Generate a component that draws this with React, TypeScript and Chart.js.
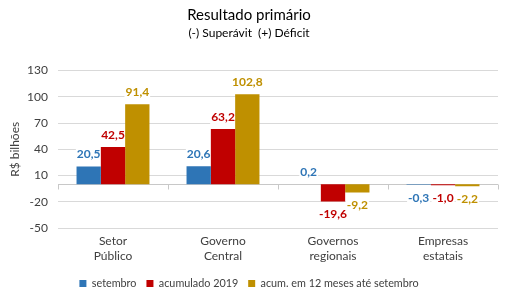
import React, { useEffect, useRef } from "react";
import { Chart, registerables } from "chart.js";

Chart.register(...registerables);

const categories: string[][] = [
  ["Setor", "Público"],
  ["Governo", "Central"],
  ["Governos", "regionais"],
  ["Empresas", "estatais"],
];
const setembro = [20.5, 20.6, 0.2, -0.3];
const acumulado2019 = [42.5, 63.2, -19.6, -1.0];
const acum12Meses = [91.4, 102.8, -9.2, -2.2];
const seriesNames = ["setembro", "acumulado 2019", "acum. em 12 meses até setembro"];
const seriesColors = ["#2E75B6", "#C00000", "#BF9000"];
const yMin = -50;
const yMax = 130;
const yStep = 30;

const FONT = "Lato, 'Open Sans', sans-serif";

const fmt = (v: number) => v.toFixed(1).replace(".", ",");

const zeroAxisPlugin = {
  id: "zeroAxis",
  beforeDatasetsDraw(chart: any) {
    const { ctx, chartArea, scales } = chart;
    const y0 = Math.round(scales.y.getPixelForValue(0)) + 0.5;
    ctx.save();
    ctx.strokeStyle = "#c8c8c8";
    ctx.lineWidth = 1;
    ctx.beginPath();
    ctx.moveTo(chartArea.left, y0);
    ctx.lineTo(chartArea.right, y0);
    const n = categories.length;
    const w = (chartArea.right - chartArea.left) / n;
    for (let k = 0; k <= n; k++) {
      const x = Math.round(chartArea.left + k * w) + 0.5;
      ctx.moveTo(x, y0);
      ctx.lineTo(x, y0 + 5);
    }
    ctx.stroke();
    ctx.restore();
  },
};

const labelPos = (chart: any, i: number, j: number) => {
  const bar = chart.getDatasetMeta(i).data[j];
  const v = chart.data.datasets[i].data[j] as number;
  const y = v >= 0 ? Math.min(bar.y, bar.base) - 12 : Math.max(bar.y, bar.base) + 13;
  return { x: bar.x, y, v };
};

const valueLabelPlugin = {
  id: "valueLabels",
  beforeDatasetsDraw(chart: any) {
    const { ctx } = chart;
    ctx.save();
    ctx.font = `bold 12px ${FONT}`;
    ctx.fillStyle = "#ffffff";
    chart.data.datasets.forEach((ds: any, i: number) => {
      ds.data.forEach((_: number, j: number) => {
        const { x, y, v } = labelPos(chart, i, j);
        const w = ctx.measureText(fmt(v)).width;
        ctx.fillRect(x - w / 2 - 1, y - 7, w + 2, 14);
      });
    });
    ctx.restore();
  },
  afterDatasetsDraw(chart: any) {
    const { ctx } = chart;
    ctx.save();
    ctx.font = `bold 12px ${FONT}`;
    ctx.textAlign = "center";
    ctx.textBaseline = "middle";
    chart.data.datasets.forEach((ds: any, i: number) => {
      ds.data.forEach((_: number, j: number) => {
        const { x, y, v } = labelPos(chart, i, j);
        ctx.fillStyle = seriesColors[i];
        ctx.fillText(fmt(v), x, y);
      });
    });
    ctx.restore();
  },
};

export default function App() {
  const ref = useRef<HTMLCanvasElement>(null);
  useEffect(() => {
    if (!ref.current) return;
    const data = [setembro, acumulado2019, acum12Meses];
    const chart = new Chart(ref.current, {
      type: "bar",
      data: {
        labels: categories,
        datasets: data.map((d, i) => ({
          label: seriesNames[i],
          data: d,
          backgroundColor: seriesColors[i],
          borderWidth: 0,
          categoryPercentage: 0.663,
          barPercentage: 1,
        })),
      },
      options: {
        responsive: false,
        animation: false,
        layout: { padding: { left: 0, right: 16, top: 0, bottom: -6 } },
        plugins: {
          title: {
            display: true,
            text: "Resultado primário",
            color: "#000000",
            font: { family: FONT, size: 15, weight: "normal", lineHeight: 1.2 },
            padding: { top: 6, bottom: 0 },
          },
          subtitle: {
            display: true,
            text: "(-) Superávit  (+) Déficit",
            color: "#000000",
            font: { family: FONT, size: 12, weight: "normal", lineHeight: 1.2 },
            padding: { top: 2, bottom: 30 },
          },
          legend: {
            position: "bottom",
            labels: {
              boxWidth: 7,
              boxHeight: 7,
              padding: 10,
              color: "#404040",
              font: { family: FONT, size: 10.8, lineHeight: 0.36 },
            },
          },
          tooltip: { enabled: false },
        },
        scales: {
          x: {
            grid: { display: false, drawTicks: false },
            border: { display: false },
            ticks: {
              color: "#404040",
              font: { family: FONT, size: 12 },
              padding: 6,
              maxRotation: 0,
            },
            afterFit: (s: any) => {
              s.height = 40;
            },
          },
          y: {
            min: yMin,
            max: yMax,
            grid: { color: "#d9d9d9", drawTicks: false },
            border: { display: false },
            ticks: {
              stepSize: yStep,
              color: "#404040",
              font: { family: FONT, size: 12 },
              padding: 10,
            },
            title: {
              display: true,
              text: "R$ bilhões",
              color: "#404040",
              font: { family: FONT, size: 12 },
              padding: { top: 8, bottom: 0 },
            },
            afterFit: (s: any) => {
              s.width = 58;
            },
          },
        },
      },
      plugins: [zeroAxisPlugin, valueLabelPlugin],
    });
    return () => chart.destroy();
  }, []);
  return (
    <div style={{ position: "absolute", left: 0, top: 0, width: 514, height: 293, background: "#fff" }}>
      <canvas ref={ref} width={514} height={293} style={{ display: "block" }} />
    </div>
  );
}
